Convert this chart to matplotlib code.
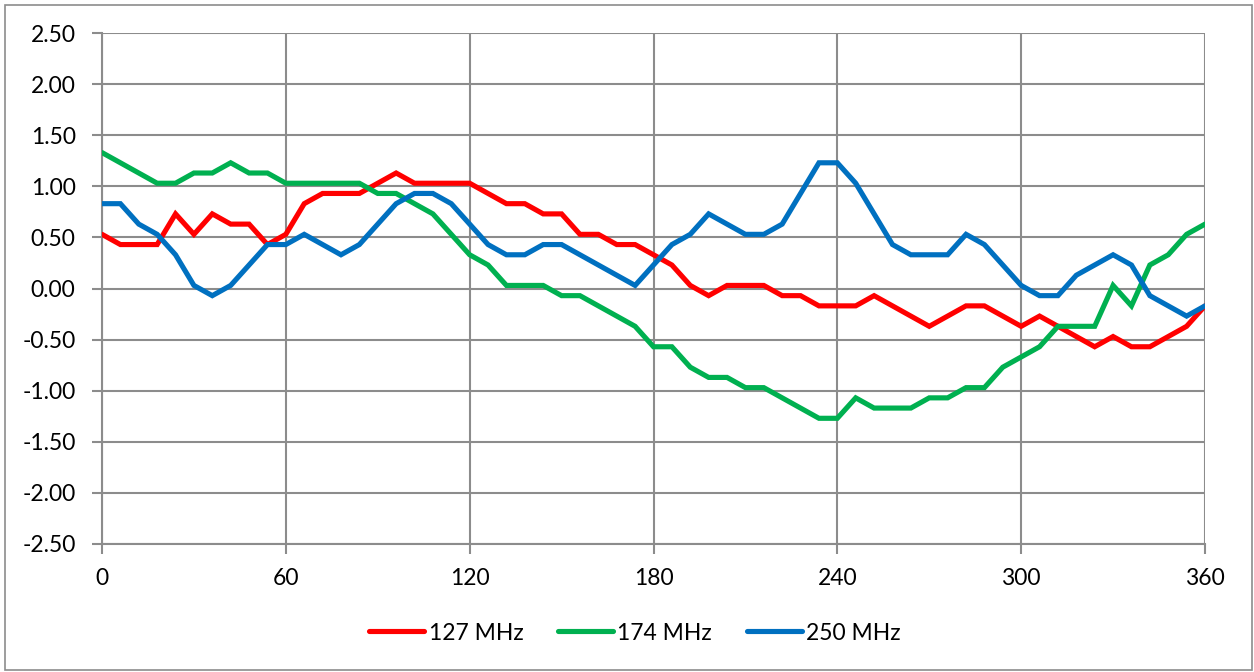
import matplotlib
matplotlib.use("Agg")
import matplotlib.pyplot as plt
from matplotlib.patches import Rectangle
from matplotlib.ticker import FormatStrFormatter

plt.rcParams['font.family'] = ['Lato', 'DejaVu Sans']

angles = list(range(0, 361, 6))

mhz127 = [0.53, 0.43, 0.43, 0.43, 0.73, 0.53, 0.73, 0.63, 0.63, 0.43,
          0.53, 0.83, 0.93, 0.93, 0.93, 1.03, 1.13, 1.03, 1.03, 1.03,
          1.03, 0.93, 0.83, 0.83, 0.73, 0.73, 0.53, 0.53, 0.43, 0.43,
          0.33, 0.23, 0.03, -0.07, 0.03, 0.03, 0.03, -0.07, -0.07, -0.17,
          -0.17, -0.17, -0.07, -0.17, -0.27, -0.37, -0.27, -0.17, -0.17, -0.27,
          -0.37, -0.27, -0.37, -0.47, -0.57, -0.47, -0.57, -0.57, -0.47, -0.37,
          -0.17]

mhz174 = [1.33, 1.23, 1.13, 1.03, 1.03, 1.13, 1.13, 1.23, 1.13, 1.13,
          1.03, 1.03, 1.03, 1.03, 1.03, 0.93, 0.93, 0.83, 0.73, 0.53,
          0.33, 0.23, 0.03, 0.03, 0.03, -0.07, -0.07, -0.17, -0.27, -0.37,
          -0.57, -0.57, -0.77, -0.87, -0.87, -0.97, -0.97, -1.07, -1.17, -1.27,
          -1.27, -1.07, -1.17, -1.17, -1.17, -1.07, -1.07, -0.97, -0.97, -0.77,
          -0.67, -0.57, -0.37, -0.37, -0.37, 0.03, -0.17, 0.23, 0.33, 0.53,
          0.63]

mhz250 = [0.83, 0.83, 0.63, 0.53, 0.33, 0.03, -0.07, 0.03, 0.23, 0.43,
          0.43, 0.53, 0.43, 0.33, 0.43, 0.63, 0.83, 0.93, 0.93, 0.83,
          0.63, 0.43, 0.33, 0.33, 0.43, 0.43, 0.33, 0.23, 0.13, 0.03,
          0.23, 0.43, 0.53, 0.73, 0.63, 0.53, 0.53, 0.63, 0.93, 1.23,
          1.23, 1.03, 0.73, 0.43, 0.33, 0.33, 0.33, 0.53, 0.43, 0.23,
          0.03, -0.07, -0.07, 0.13, 0.23, 0.33, 0.23, -0.07, -0.17, -0.27,
          -0.17]

series_names = ["127 MHz", "174 MHz", "250 MHz"]
series_colors = ["#FF0000", "#00B050", "#0070C0"]
x_ticks = [0, 60, 120, 180, 240, 300, 360]
y_ticks = [-2.5, -2.0, -1.5, -1.0, -0.5, 0.0, 0.5, 1.0, 1.5, 2.0, 2.5]

W, H = 1254, 672
fig = plt.figure(figsize=(W / 100, H / 100), dpi=100)
ax = fig.add_axes([102 / W, 1 - 544 / H, (1205 - 102) / W, (544 - 33) / H])

grid_c = "#8C8C8C"
fs = 16.5
for name, col, vals in zip(series_names, series_colors, [mhz127, mhz174, mhz250]):
    ax.plot(angles, vals, color=col, lw=3.7, label=name,
            solid_joinstyle='miter', solid_capstyle='round', zorder=3)

ax.set_xlim(0, 360)
ax.set_ylim(-2.5, 2.5)
ax.set_xticks(x_ticks)
ax.set_yticks(y_ticks)
ax.yaxis.set_major_formatter(FormatStrFormatter('%.2f'))
ax.grid(True, color=grid_c, lw=1.5, zorder=1)
ax.set_axisbelow(True)
for s in ['top', 'right']:
    ax.spines[s].set_visible(False)
for s in ['left', 'bottom']:
    ax.spines[s].set_color(grid_c)
    ax.spines[s].set_linewidth(1.5)
ax.tick_params(axis='both', colors=grid_c, length=7, width=1.5,
               labelcolor='black', labelsize=fs)
ax.tick_params(axis='y', pad=12)
ax.tick_params(axis='x', pad=10)

leg = fig.legend(loc='center', bbox_to_anchor=(635 / W, 1 - 633 / H), ncol=3,
                 frameon=False, fontsize=fs, handlelength=2.4,
                 handletextpad=0.2, columnspacing=1.5)

fig.patches.append(Rectangle((5 / W, 2 / H), (1252 - 5) / W, (667 - 2) / H,
                             transform=fig.transFigure, fill=False,
                             edgecolor=grid_c, lw=1.2))

fig.savefig("out.png", dpi=100)
